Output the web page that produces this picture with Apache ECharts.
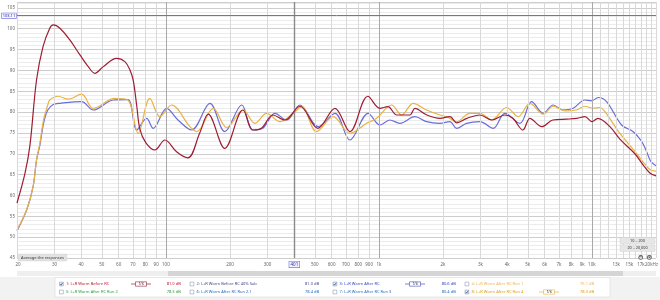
<!DOCTYPE html>
<html><head><meta charset="utf-8">
<script src="https://cdn.jsdelivr.net/npm/echarts@6/dist/echarts.min.js"></script>
<style>html,body{margin:0;padding:0;background:#fff}#c{width:660px;height:300px}</style>
</head><body><div id="c"></div><script>
// ---- data (frequency in Hz, level in dB) ----
const freqRed = [20,21.8,23,24.7,26.5,28.5,29.6,31.8,35.4,39.5,43.2,46.4,50.8,58.7,64.2,67.8,70.2,72.9,75.5,80.6,88.8,98.9,112.6,126.8,144,158,189,230,256,282,318,362,426,517,622,731,888,1011,1102,1215,1398,1476,1680,1934,2154,2324,2588,2980,3393,3904,4257,4743,5116,5825,6561,7632,8505,9271,10000,10671,12148,13536,15920,17418,18720,20000];
const dbRed = [58.2,65.3,72.0,87.7,95.7,100.1,100.9,100.1,97.3,93.7,90.9,89.3,90.9,92.9,92.1,90.1,87.7,81.7,75.9,72.6,70.9,73.3,70.4,69.0,74.9,79.5,71.3,80.5,75.7,76.2,79.3,78.1,81.4,76.1,80.9,75.3,83.8,80.9,81.3,79.3,79.3,80.9,79.3,78.5,78.9,77.4,78.5,79.3,78.1,79.3,78.5,75.7,78.5,76.5,78.1,78.3,78.5,78.9,77.7,78.5,76.5,73.5,70.0,67.3,65.4,64.7];

const freqBlue = [20,22.2,23.8,24.7,25.6,26.7,27.9,29.6,31.8,40.2,45.6,56.6,66.3,72.9,81.2,87.2,100.8,114,132,161,189,227,256,285,325,369,426,519,622,731,891,1011,1126,1255,1476,1675,1934,2154,2316,2580,2980,3441,3904,4592,5212,5908,6582,7334,8172,9271,9968,10705,11722,13786,15630,17120,18070,18900,20000];
const dbBlue = [51.5,56.5,62.1,68.5,72.0,77.5,80.5,81.8,82.1,82.5,80.5,82.9,83.0,75.7,78.5,76.1,80.9,78.1,75.7,82.1,75.3,81.7,75.7,76.1,79.7,78.1,81.7,76.5,79.7,73.3,79.7,76.9,78.1,77.3,78.9,77.7,77.3,77.7,76.1,77.3,77.7,76.1,79.7,77.3,82.5,79.7,81.7,80.5,80.9,82.9,82.7,83.5,82.5,76.9,75.3,73.0,70.5,68.2,67.1];

const freqOrange = [20,22.2,23.8,24.7,25.6,26.7,27.9,28.5,31.2,34.8,40.2,45.6,57.6,66.3,74.1,84.1,93.7,106.4,129.6,139.8,166.8,192.8,230.7,261.7,297,343,396,434,510,610,731,876,976,1147,1279,1449,1675,1934,2079,2316,2674,2980,3382,3977,4508,5116,5908,6582,7468,8478,9271,10141,10904,11508,13536,15920,17418,18720,20000];
const dbOrange = [51.7,56.5,62.1,68.5,72.5,78.3,81.7,82.9,83.8,83.1,84.3,80.9,83.3,82.9,74.9,83.3,78.9,81.7,76.5,75.3,80.9,76.3,80.5,77.3,79.7,77.7,79.7,81.3,75.3,78.9,74.9,77.3,78.5,81.7,79.3,82.1,80.5,79.3,78.9,77.7,79.7,79.7,78.1,81.1,78.9,82.1,79.5,81.4,80.3,80.5,81.4,80.9,81.1,80.1,74.9,70.6,68.0,66.2,65.8];

const xTickValues = [20,30,40,50,60,70,80,90,100,200,300,400,500,600,700,800,900,1000,2000,3000,4000,5000,6000,7000,8000,9000,10000,11000,12000,13000,14000,15000,16000,17000,18000,19000,20000];
const xTickLabels = ['20','30','40','50','60','70','80','90','100','200','300','','500','600','700','800','900','1k','2k','3k','4k','5k','6k','7k','8k','9k','10k','','','13k','','15k','','17k','','','20kHz'];
const xMajorTicks = [100,1000,10000];

const cursorFreq = 401;
const cursorDb = 103.11;

const legendNames = ['1: L+R Warm Before RC','2: L+R Warm Before RC 40% Sub','3: L+R Warm After RC','4: L+R Warm After RC Run 1','5: L+R Warm After RC Run 2','6: L+R Warm After RC Run 2.1','7: L+R Warm After RC Run 3','8: L+R Warm After RC Run 4'];
const legendLevels = ['81.0 dB','81.0 dB','80.6 dB','76.1 dB','78.3 dB','78.4 dB','80.4 dB','78.3 dB'];
const legendChecked = [true,false,true,false,false,false,false,true];
const smoothingLabel = '1/6';
const rangeLabels = ['10 .. 200','20 .. 20,000'];
const buttonLabel = 'Average the responses';

// ---- styling ----
const FONT = 'Noto Sans';
const C_RED = '#9e1c33', C_BLUE = '#6b6dd8', C_ORANGE = '#e9b244';
const legendColors = ['#c0182e','#3e4c86','#3444c0','#f0b458','#2f9a3c','#2a6cc0','#2a6cc0','#dea014'];
const pairs = (f, d) => f.map((v, i) => [v, d[i]]);

const chart = echarts.init(document.getElementById('c'), null, {renderer: 'canvas'});

const gridLineData = xTickValues.map((v, i) => {
  const major = xMajorTicks.indexOf(v) >= 0;
  const lab = {formatter: xTickLabels[i] || ''};
  if (v === 20000) lab.padding = [0, 9, 0, 0];
  if (v === 20) lab.padding = [0, 0, 0, 2];
  return {xAxis: v, lineStyle: {color: major ? '#a9a9a9' : '#d9d9d9', width: 1, type: 'solid'}, label: lab};
});

const graphics = [];
// bottom area
graphics.push({type: 'rect', shape: {x: 0, y: 277, width: 660, height: 23}, style: {fill: '#f2f2f2'}, silent: true});
graphics.push({type: 'rect', shape: {x: 17, y: 271, width: 639, height: 5}, style: {fill: '#efefef'}, silent: true});
graphics.push({type: 'rect', shape: {x: 168, y: 271, width: 455, height: 5}, style: {fill: '#d5d5d5'}, silent: true});
graphics.push({type: 'rect', shape: {x: 55, y: 277.5, width: 555, height: 19.5}, style: {fill: '#ffffff', stroke: '#d2d2d2', lineWidth: 0.5}, silent: true});

const colX = [59.5, 190, 333, 465];
const levelX = [166.7, 305, 441.7, 580];
const rowY = [284, 292];
const iconCenters = {0: 141, 2: 415, 7: 549};
legendNames.forEach((name, i) => {
  const row = i < 4 ? 0 : 1, col = i % 4;
  const x = colX[col], y = rowY[row];
  graphics.push({type: 'rect', shape: {x: x, y: y - 1.9, width: 3.8, height: 3.8},
    style: {fill: legendChecked[i] ? '#e4ecfb' : '#ffffff', stroke: '#7d8aa4', lineWidth: 0.5}, silent: true});
  if (legendChecked[i]) {
    graphics.push({type: 'polyline', shape: {points: [[x + 0.7, y], [x + 1.6, y + 1.1], [x + 3.2, y - 1.2]]},
      style: {stroke: '#1f3fa0', lineWidth: 0.7, fill: null}, silent: true});
  }
  graphics.push({type: 'text', x: x + 6.5, y: y, style: {text: name, fill: legendColors[i], font: '4px "' + FONT + '"', textVerticalAlign: 'middle', verticalAlign: 'middle'}, silent: true});
  graphics.push({type: 'text', x: levelX[col], y: y, style: {text: legendLevels[i], fill: legendColors[i], font: '4px "' + FONT + '"', textVerticalAlign: 'middle', verticalAlign: 'middle'}, silent: true});
  if (iconCenters[i] !== undefined) {
    const cx = iconCenters[i];
    const col2 = i === 0 ? C_RED : (i === 2 ? '#4a4cc0' : C_ORANGE);
    graphics.push({type: 'line', shape: {x1: cx - 10, y1: y, x2: cx + 10, y2: y}, style: {stroke: col2, lineWidth: 0.7}, silent: true});
    graphics.push({type: 'rect', shape: {x: cx - 5.5, y: y - 2.2, width: 11, height: 4.4}, style: {fill: '#fff', stroke: col2, lineWidth: 0.6}, silent: true});
    graphics.push({type: 'text', x: cx, y: y, style: {text: smoothingLabel, fill: '#333', font: 'italic 3.6px "' + FONT + '"', textAlign: 'center', align: 'center', textVerticalAlign: 'middle', verticalAlign: 'middle'}, silent: true});
  }
});

// average button
graphics.push({type: 'rect', shape: {x: 18, y: 254, width: 49, height: 7, r: 0.8}, style: {fill: '#e2e2e2', stroke: '#cfcfcf', lineWidth: 0.4}, silent: true, z: 100});
graphics.push({type: 'text', x: 42.5, y: 257.5, style: {text: buttonLabel, fill: '#333', font: '4px "' + FONT + '"', textAlign: 'center', align: 'center', textVerticalAlign: 'middle', verticalAlign: 'middle'}, silent: true, z: 101});
// range boxes
rangeLabels.forEach((t, i) => {
  const y0 = 237.5 + i * 7.5;
  graphics.push({type: 'rect', shape: {x: 620, y: y0, width: 35, height: 6.5}, style: {fill: '#e6e6e6', stroke: '#d0d0d0', lineWidth: 0.4}, silent: true, z: 100});
  graphics.push({type: 'text', x: 637.5, y: y0 + 3.3, style: {text: t, fill: '#333', font: '3.8px "' + FONT + '"', textAlign: 'center', align: 'center', textVerticalAlign: 'middle', verticalAlign: 'middle'}, silent: true, z: 101});
});
[[640.7, '−'], [649.3, '+']].forEach(([cx, s]) => {
  graphics.push({type: 'circle', shape: {cx: cx, cy: 257.4, r: 2.4}, style: {fill: '#5a5a5a'}, silent: true, z: 100});
  graphics.push({type: 'circle', shape: {cx: cx, cy: 257.4, r: 1.5}, style: {fill: '#dcdcdc'}, silent: true, z: 101});
  graphics.push({type: 'text', x: cx, y: 257.4, style: {text: s, fill: '#333', font: 'bold 3px "' + FONT + '"', textAlign: 'center', align: 'center', textVerticalAlign: 'middle', verticalAlign: 'middle'}, silent: true, z: 102});
});

const lineSeries = (name, data, color, z) => ({
  name: name, type: 'line', data: data, smooth: 0.35, showSymbol: false, symbol: 'none',
  xAxisIndex: 0, yAxisIndex: 0, z: z, silent: true,
  lineStyle: {color: color, width: 1.2}, animation: false
});

chart.setOption({
  animation: false,
  backgroundColor: '#ffffff',
  textStyle: {fontFamily: FONT},
  grid: {left: 17, right: 4, top: 2, bottom: 42, containLabel: false},
  xAxis: [{type: 'log', logBase: 10, min: 20, max: 20000,
    axisLine: {show: false}, axisTick: {show: false}, axisLabel: {show: false}, splitLine: {show: false}}],
  yAxis: [
    {type: 'value', min: 45, max: 106.4, interval: 1, position: 'left',
      axisLine: {show: false}, axisTick: {show: false}, axisLabel: {show: false},
      splitLine: {show: true, lineStyle: {color: '#ececec', width: 1}}},
    {type: 'value', min: 45, max: 106.4, interval: 5, position: 'left', offset: 0,
      axisLine: {show: false}, axisTick: {show: false},
      axisLabel: {show: true, fontSize: 4.5, color: '#666', margin: 2, fontFamily: FONT,
        formatter: v => (Math.abs(v % 5) < 1e-6 ? String(v) : '')},
      splitLine: {show: true, lineStyle: {color: '#cdcdcd', width: 1}}}
  ],
  series: [
    {name: 'grid', type: 'line', data: [], silent: true, z: 1,
      markLine: {silent: true, symbol: 'none', animation: false,
        label: {show: true, position: 'start', distance: 4, fontSize: 4.5, color: '#666', fontFamily: FONT},
        data: gridLineData}},
    {name: 'cursor', type: 'line', data: [], silent: true, z: 2,
      markLine: {silent: true, symbol: 'none', animation: false,
        data: [
          {xAxis: cursorFreq, lineStyle: {color: '#8a8a8a', width: 1.4, type: 'solid'},
            label: {show: true, position: 'start', distance: 3.5, formatter: String(cursorFreq), fontSize: 4.5,
              color: '#2a2ab0', backgroundColor: '#f4f4ff', borderColor: '#6f6fe0', borderWidth: 0.6, padding: [0.6, 1.2, 0.2, 1.2], fontFamily: FONT}},
          {yAxis: cursorDb, lineStyle: {color: '#7a7a7a', width: 1, type: 'solid'},
            label: {show: true, position: 'start', distance: 1, formatter: cursorDb.toFixed(2), fontSize: 4,
              color: '#2a2ab0', backgroundColor: '#f4f4ff', borderColor: '#6f6fe0', borderWidth: 0.6, padding: [0.6, 0.8, 0.2, 0.8], fontFamily: FONT}}
        ]}},
    lineSeries('3: L+R Warm After RC', pairs(freqBlue, dbBlue), C_BLUE, 3),
    lineSeries('8: L+R Warm After RC Run 4', pairs(freqOrange, dbOrange), C_ORANGE, 4),
    lineSeries('1: L+R Warm Before RC', pairs(freqRed, dbRed), C_RED, 5)
  ],
  graphic: graphics
});
</script></body></html>
